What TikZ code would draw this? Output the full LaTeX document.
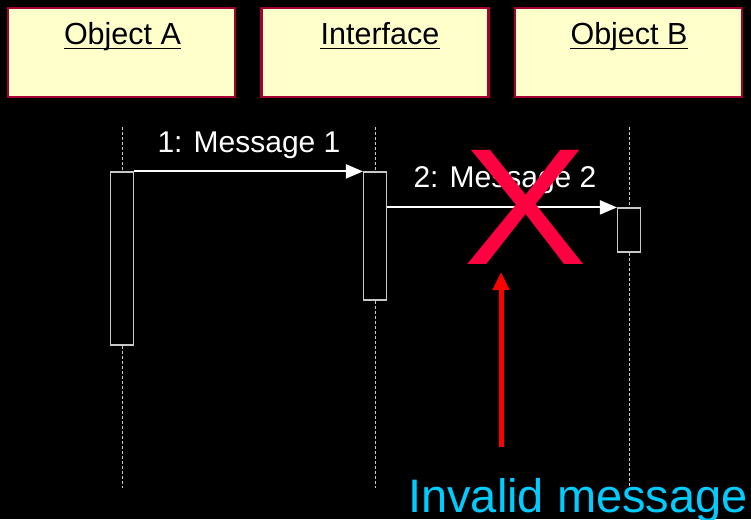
\documentclass[tikz,border=0pt]{standalone}
\usepackage{fontspec}
\setmainfont{Liberation Sans}
\usetikzlibrary{arrows.meta}
\definecolor{boxfill}{RGB}{255,255,204}
\definecolor{boxedge}{RGB}{165,0,50}
\definecolor{crossred}{RGB}{255,0,64}
\definecolor{notecyan}{RGB}{0,204,255}
\definecolor{actedge}{RGB}{200,200,200}

\begin{document}
\begin{tikzpicture}[x=1pt,y=-1pt,
  objbox/.style={draw=boxedge, line width=2.2pt, fill=boxfill, inner sep=0pt,
    minimum width=227pt, minimum height=89pt},
  objtitle/.style={anchor=base, inner sep=0pt, font=\fontsize{30.5}{36}\selectfont, text=black},
  titleline/.style={draw=black, line width=1.5pt},
  act/.style={draw=actedge, line width=1.2pt, fill=black, inner sep=0pt, minimum width=23pt},
  lifeline/.style={draw=actedge, line width=0.9pt, dash pattern=on 3pt off 2pt},
  msg/.style={draw=white, line width=2pt, -{Triangle[length=17pt,width=14pt]}},
  msglabel/.style={anchor=base, inner sep=0pt, font=\fontsize{30}{36}\selectfont, text=white},
  pointer/.style={draw=red, line width=5pt, -{Triangle[length=18pt,width=16pt]}},
]
% page background
\fill[black] (0,0) rectangle (751,519);
\useasboundingbox (0,0) rectangle (751,519);

% object boxes
\node[objbox] (boxA) at (121.5,52.5) {};
\node[objbox] (boxI) at (375,52.5) {};
\node[objbox] (boxB) at (628.5,52.5) {};

% underlined titles
\node[objtitle] (tA) at (122.5,45) {Object A};
\node[objtitle] (tI) at (380,45) {Interface};
\node[objtitle] (tB) at (629,45) {Object B};
\draw[titleline] ([yshift=-3.5pt]tA.base west) -- ([yshift=-3.5pt]tA.base east);
\draw[titleline] ([yshift=-3.5pt]tI.base west) -- ([yshift=-3.5pt]tI.base east);
\draw[titleline] ([yshift=-3.5pt]tB.base west) -- ([yshift=-3.5pt]tB.base east);

% lifeline ends
\coordinate (topA) at (122,127);
\coordinate (topI) at (375,127);
\coordinate (topB) at (629,127);
\coordinate (endA) at (122,488);
\coordinate (endI) at (375,488);
\coordinate (endB) at (629,488);

% activation bars
\node[act, minimum height=173pt] (actA) at (122,258.5) {};
\node[act, minimum height=128pt] (actI) at (375,236) {};
\node[act, minimum height=44pt] (actB) at (629,230) {};

% lifelines
\draw[lifeline] (topA) -- (actA.north);
\draw[lifeline] (actA.south) -- (endA);
\draw[lifeline] (topI) -- (actI.north);
\draw[lifeline] (actI.south) -- (endI);
\draw[lifeline] (topB) -- (actB.north);
\draw[lifeline] (actB.south) -- (endB);

% messages
\draw[msg] (actA.north east) -- (actI.north west);
\node[msglabel] (m1) at (249,152) {1: Message 1};
\draw[msg] (actI.east |- actB.north) -- (actB.north west);
\node[msglabel] (m2) at (505,187) {2: Message 2};

% cross over the second message
\node[inner sep=0pt, text=crossred, font=\fontsize{166}{166}\selectfont] (cross) at (525,207.5) {\scalebox{1.12}[1]{X}};

% pointer and note
\coordinate (ptail) at (501,447);
\coordinate (ptip) at (501,272);
\draw[pointer] (ptail) -- (ptip);
\node[anchor=base west, inner sep=0pt, text=notecyan, font=\fontsize{47}{56}\selectfont] (note) at (408,512) {Invalid message};
\end{tikzpicture}
\end{document}
